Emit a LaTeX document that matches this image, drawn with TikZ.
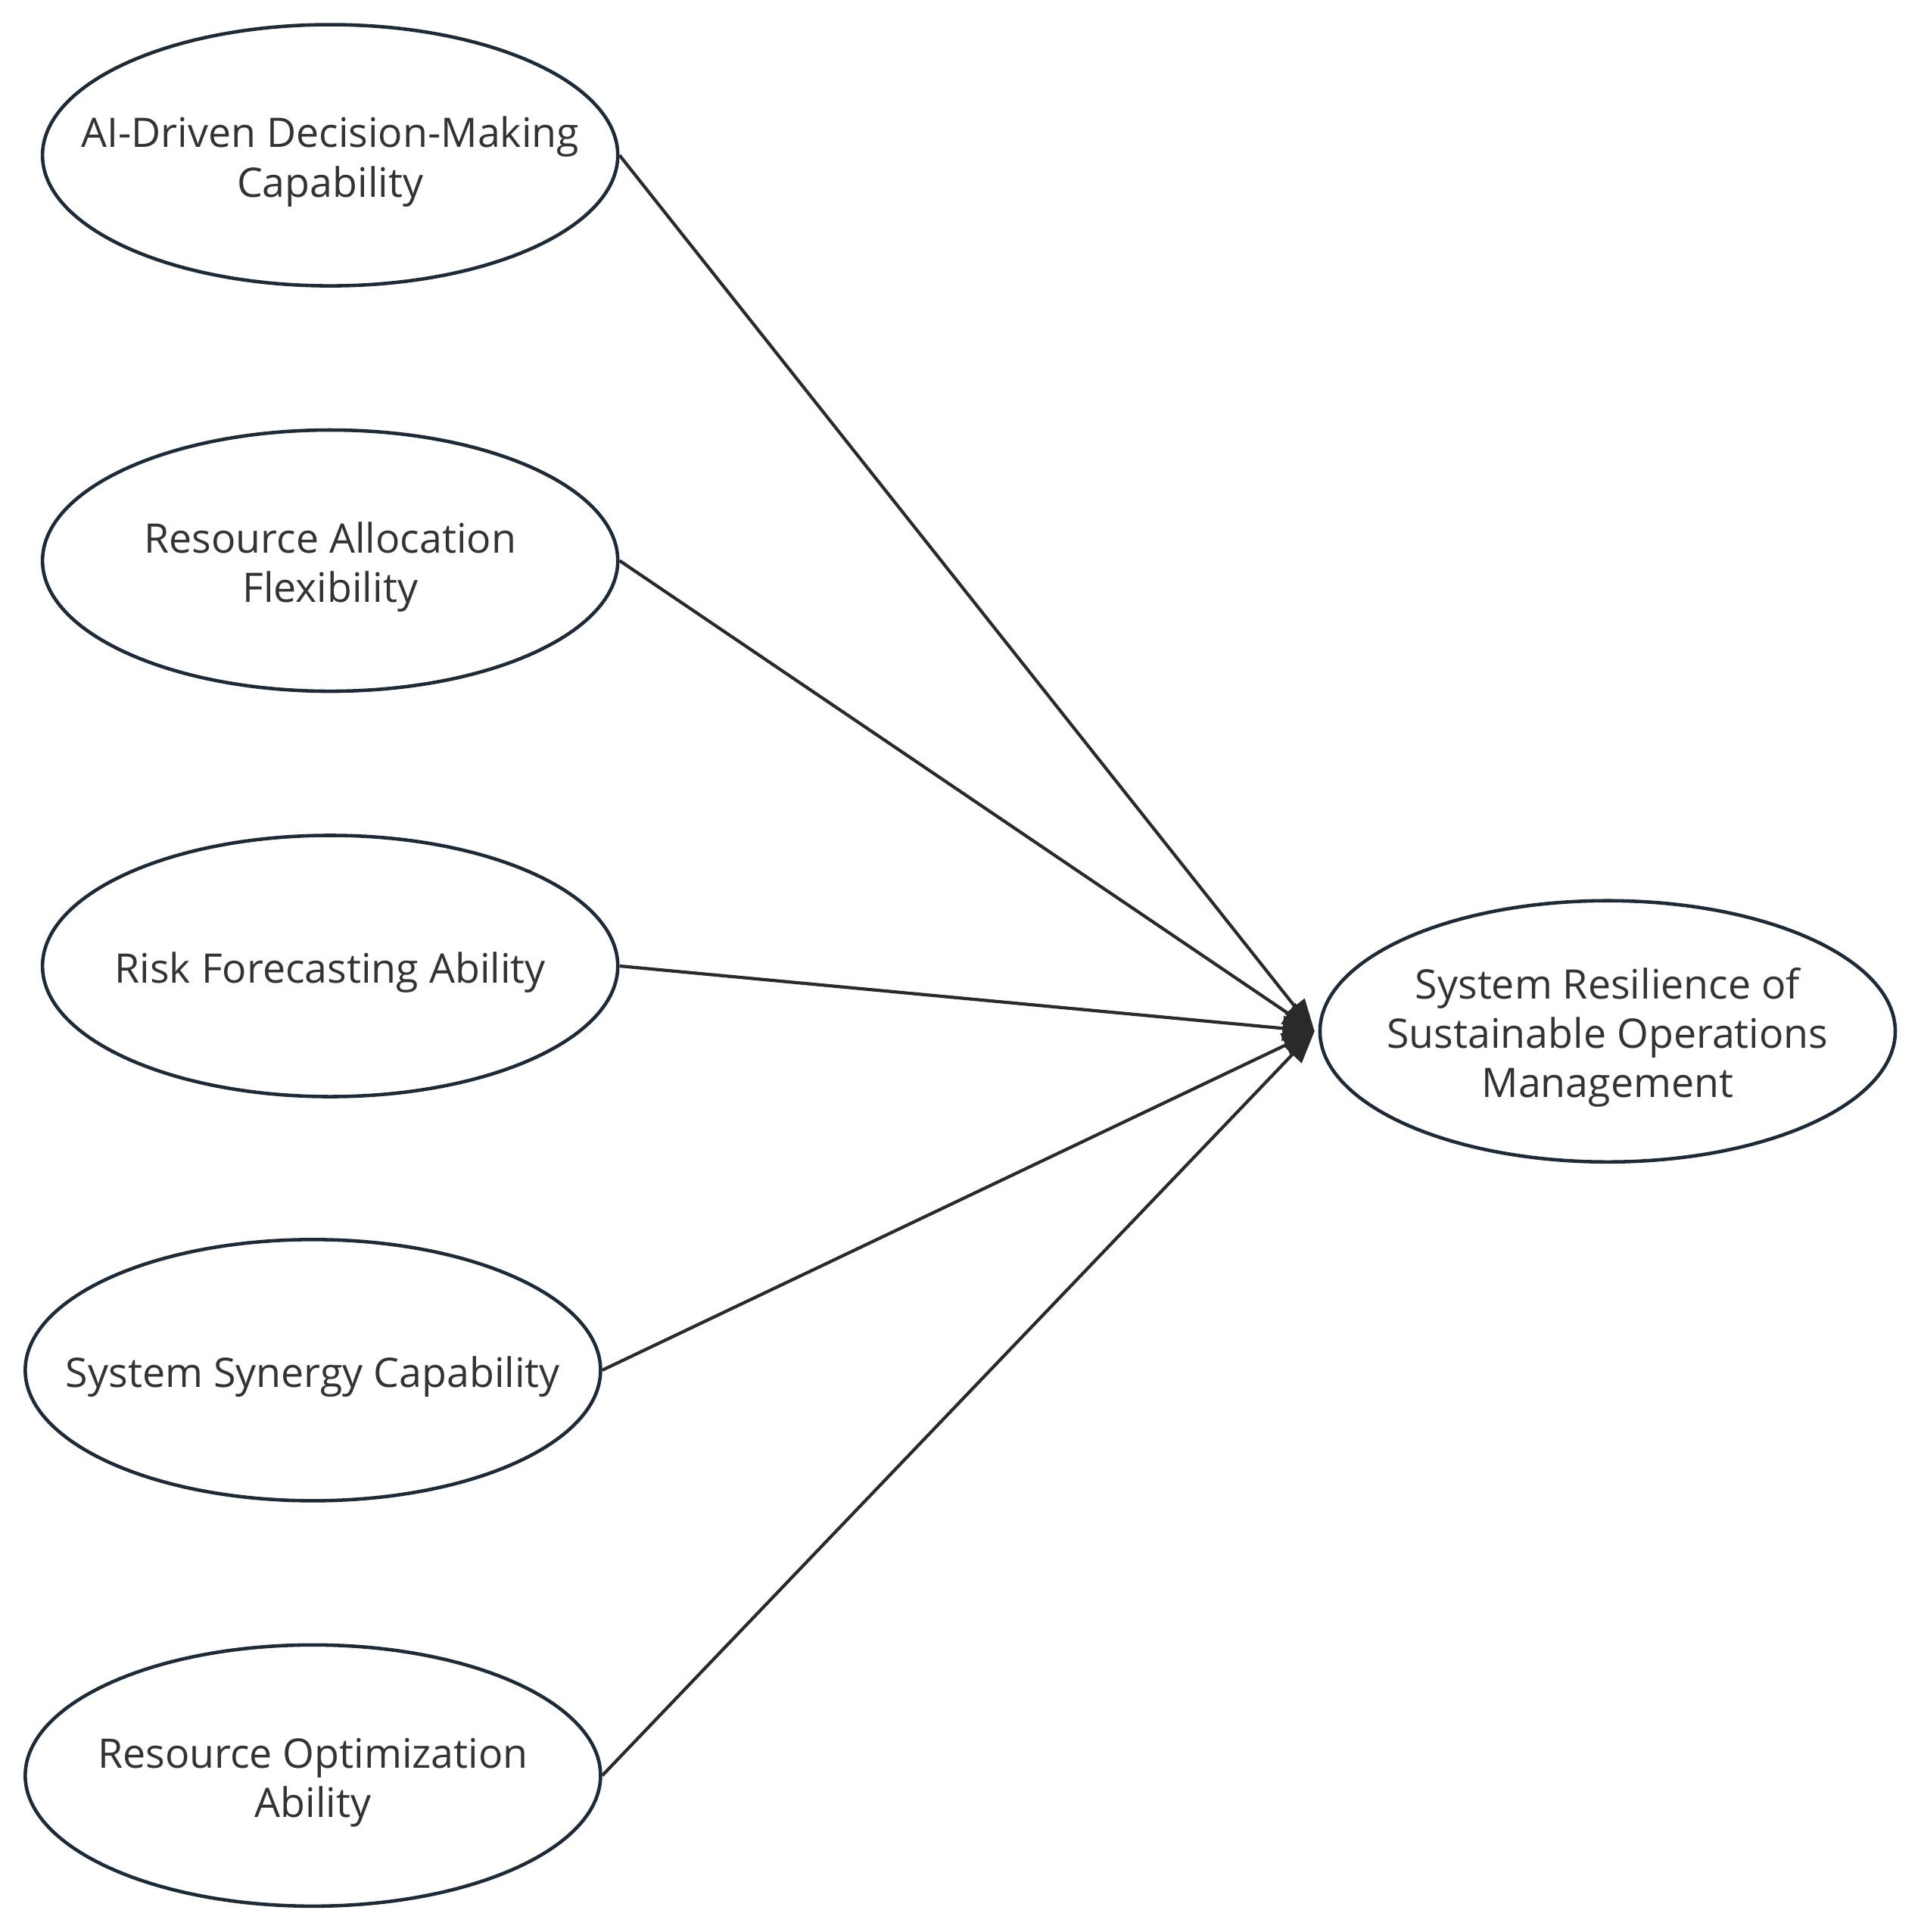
\documentclass[tikz,border=0pt]{standalone}
\usepackage{fontspec}
\setmainfont{Open Sans}
\usetikzlibrary{arrows.meta,shapes.geometric}
\definecolor{edgecol}{HTML}{1E2A36}
\definecolor{txtcol}{HTML}{333333}
\definecolor{linecol}{HTML}{2A2A2A}
\newcommand{\lbl}[1]{\makebox[0pt]{\raisebox{-12pt}[0pt][0pt]{\begin{tabular}{@{}c@{}}#1\end{tabular}}}}
\tikzset{
  factor/.style={ellipse, draw=edgecol, line width=2.8pt, minimum width=467pt, minimum height=212pt, inner sep=0pt, text=txtcol, font=\fontsize{33}{40}\selectfont},
  link/.style={draw=linecol, line width=2.6pt, -{Triangle[length=26pt,width=20pt]}}
}
\begin{document}
\begin{tikzpicture}[x=1pt,y=-1pt]
\useasboundingbox (0,0) rectangle (1559,1568);
\node[factor] (a) at (268,126) {\lbl{AI-Driven Decision-Making\\Capability}};
\node[factor] (b) at (268,455) {\lbl{Resource Allocation\\Flexibility}};
\node[factor] (c) at (268,784) {\lbl{Risk Forecasting Ability}};
\node[factor] (d) at (254,1112) {\lbl{System Synergy Capability}};
\node[factor] (e) at (254,1441) {\lbl{Resource Optimization\\Ability}};
\node[factor] (t) at (1305,837) {\lbl{System Resilience of\\Sustainable Operations\\Management}};
\coordinate (tip) at ([xshift=-3pt]t.west);
\draw[link] (a.east) -- (tip);
\draw[link] (b.east) -- (tip);
\draw[link] (c.east) -- (tip);
\draw[link] (d.east) -- (tip);
\draw[link] (e.east) -- (tip);
\end{tikzpicture}
\end{document}
